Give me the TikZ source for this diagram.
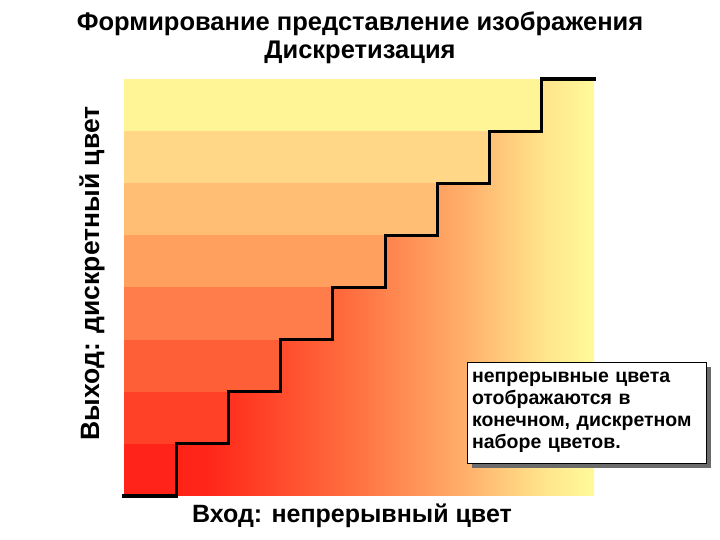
\documentclass[tikz,border=0pt]{standalone}
\usepackage{fontspec}
\setmainfont{Liberation Sans}
\usetikzlibrary{shadows}

\definecolor{rampA}{RGB}{255,30,20}
\definecolor{rampB}{RGB}{255,38,25}
\definecolor{rampC}{RGB}{255,115,65}
\definecolor{rampD}{RGB}{255,180,110}
\definecolor{rampE}{RGB}{255,230,140}
\definecolor{rampF}{RGB}{255,250,155}

% continuous input colour, red to pale yellow
\pgfdeclarehorizontalshading{inputramp}{100bp}{
  color(0bp)=(rampA); color(25bp)=(rampA); color(34bp)=(rampB);
  color(50bp)=(rampC); color(62bp)=(rampD); color(70bp)=(rampE);
  color(75bp)=(rampF); color(100bp)=(rampF)}

\definecolor{band0}{RGB}{255,35,25}
\definecolor{band1}{RGB}{255,65,40}
\definecolor{band2}{RGB}{255,95,55}
\definecolor{band3}{RGB}{255,125,75}
\definecolor{band4}{RGB}{255,160,95}
\definecolor{band5}{RGB}{255,190,115}
\definecolor{band6}{RGB}{255,215,135}
\definecolor{band7}{RGB}{255,245,150}

\begin{document}
\begin{tikzpicture}[
  x=1pt, y=1pt,
  title/.style={font=\fontsize{25.5}{28}\selectfont\bfseries, align=center},
  axislabel/.style={font=\fontsize{25}{28}\selectfont\bfseries},
  note/.style={
    rectangle, draw=black, line width=0.6pt, fill=white,
    minimum width=239pt, minimum height=101pt, text width=229pt,
    align=left, inner sep=5pt,
    font=\fontsize{19.5}{22}\selectfont\bfseries,
    drop shadow={shadow xshift=5pt, shadow yshift=-5pt, fill=black!58, opacity=1}
  },
  stair/.style={line width=3.2pt, line cap=rect, draw=black}
]
\useasboundingbox (0,0) rectangle (720,540);

% square: 9 columns x 8 bands
\def\colw{52.22}
\def\rowh{52.125}
\def\xl{124}
\def\yb{44}

\shade[shading=inputramp] (\xl,\yb)
  \foreach \i in {0,...,7}{
    -- ({\xl+(\i+1)*\colw},{\yb+\i*\rowh}) -- ({\xl+(\i+1)*\colw},{\yb+(\i+1)*\rowh})
  } -- (594,461) -- (594,\yb) -- cycle;

\foreach \i in {0,...,7}{
  \fill[band\i] (\xl,{\yb+\i*\rowh}) rectangle ({\xl+(\i+1)*\colw},{\yb+(\i+1)*\rowh+0.4});
}

\draw[stair] (\xl,\yb)
  \foreach \i in {0,...,7}{
    -- ({\xl+(\i+1)*\colw},{\yb+\i*\rowh}) -- ({\xl+(\i+1)*\colw},{\yb+(\i+1)*\rowh})
  } -- (594,461);

\node[title] (heading) at (360,502) {Формирование представление изображения\\Дискретизация};
\node[axislabel, rotate=90, font=\fontsize{26.5}{28}\selectfont\bfseries] (ylabel) at (92,266.5) {Выход: дискретный цвет};
\node[axislabel] (xlabel) at (352,24) {Вход: непрерывный цвет};

\node[note] (remark) at (586.5,127.5) {непрерывные цвета\\отображаются в\\конечном, дискретном\\наборе цветов.};

\end{tikzpicture}
\end{document}
